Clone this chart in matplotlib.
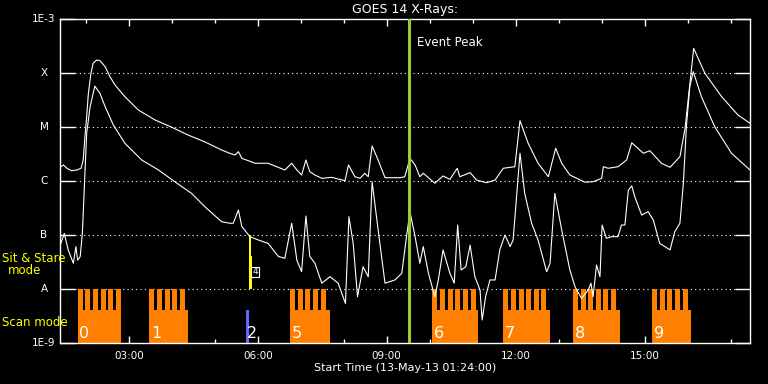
import matplotlib
matplotlib.use('Agg')
import matplotlib.pyplot as plt
from matplotlib.ticker import FixedLocator, NullLocator, FuncFormatter
import numpy as np

# GOES 14 X-ray flux, time in hours of 13-May-13
# long channel (upper curve)
t_long = [1.42, 1.48, 1.56, 1.67, 1.79, 1.89, 1.94, 1.98, 2.02, 2.06, 2.12, 2.17,
          2.25, 2.33, 2.45, 2.56, 2.68, 2.91, 3.22, 3.61, 4.00, 4.38, 4.77, 5.16,
          5.35, 5.47, 5.55, 5.63, 5.94, 6.24, 6.63, 6.79, 6.91, 7.02, 7.12, 7.21,
          7.33, 7.49, 7.72, 8.03, 8.11, 8.26, 8.38, 8.49, 8.57, 8.66, 8.80, 8.96,
          9.31, 9.42, 9.54, 9.66, 9.77, 9.85, 10.12, 10.31, 10.47, 10.64, 10.70,
          10.94, 11.09, 11.32, 11.52, 11.71, 11.98, 12.10, 12.29, 12.52, 12.76,
          12.93, 13.07, 13.26, 13.61, 13.80, 14.00, 14.04, 14.15, 14.38, 14.58,
          14.70, 14.97, 15.12, 15.39, 15.59, 15.82, 15.94, 16.07, 16.14, 16.40,
          16.79, 17.17, 17.45]
f_long = [1.84e-6, 1.98e-6, 1.72e-6, 1.55e-6, 1.60e-6, 1.72e-6, 2.45e-6, 6.6e-6,
          1.55e-5, 4.2e-5, 9.9e-5, 1.51e-4, 1.74e-4, 1.69e-4, 1.31e-4, 8.6e-5,
          6.0e-5, 3.64e-5, 2.07e-5, 1.35e-5, 9.9e-6, 7.1e-6, 5.3e-6, 3.75e-6,
          3.26e-6, 3.03e-6, 3.49e-6, 2.63e-6, 2.13e-6, 2.13e-6, 1.60e-6, 2.13e-6,
          1.60e-6, 1.29e-6, 2.45e-6, 1.49e-6, 1.29e-6, 1.12e-6, 1.17e-6, 1.01e-6,
          1.98e-6, 1.20e-6, 1.12e-6, 1.39e-6, 1.20e-6, 4.45e-6, 2.45e-6, 1.15e-6,
          1.15e-6, 1.20e-6, 2.63e-6, 1.98e-6, 1.20e-6, 1.39e-6, 9.1e-7, 1.24e-6,
          1.07e-6, 1.72e-6, 1.20e-6, 1.43e-6, 1.04e-6, 9.3e-7, 1.04e-6, 1.72e-6,
          1.84e-6, 1.31e-5, 4.99e-6, 2.13e-6, 1.20e-6, 4.04e-6, 2.13e-6, 1.29e-6,
          9.5e-7, 9.7e-7, 1.12e-6, 1.84e-6, 1.72e-6, 1.84e-6, 2.45e-6, 5.1e-6,
          3.26e-6, 3.64e-6, 2.13e-6, 1.79e-6, 2.82e-6, 9.5e-6, 8.6e-5, 2.86e-4,
          9.9e-5, 3.64e-5, 1.67e-5, 1.17e-5]

# short channel (lower curve)
t_short = [1.42, 1.50, 1.59, 1.71, 1.77, 1.81, 1.87, 1.92, 1.97, 2.02, 2.10, 2.21,
           2.33, 2.45, 2.64, 2.91, 3.30, 3.69, 4.07, 4.46, 4.77, 5.16, 5.35, 5.43,
           5.55, 5.63, 5.82, 6.01, 6.24, 6.48, 6.63, 6.79, 6.91, 7.02, 7.12, 7.21,
           7.33, 7.49, 7.68, 7.87, 8.04, 8.12, 8.22, 8.32, 8.45, 8.57, 8.66, 8.80,
           8.96, 9.19, 9.35, 9.46, 9.54, 9.66, 9.77, 9.85, 9.97, 10.12, 10.20,
           10.31, 10.47, 10.57, 10.65, 10.73, 10.84, 10.94, 11.05, 11.17, 11.22,
           11.30, 11.40, 11.52, 11.63, 11.75, 11.87, 11.94, 12.10, 12.21, 12.37,
           12.52, 12.72, 12.80, 12.91, 13.07, 13.26, 13.38, 13.53, 13.69, 13.75,
           13.80, 13.88, 13.96, 14.01, 14.11, 14.23, 14.38, 14.46, 14.54, 14.62,
           14.70, 14.77, 14.93, 15.08, 15.20, 15.35, 15.59, 15.70, 15.82, 15.90,
           15.97, 16.05, 16.13, 16.32, 16.63, 17.02, 17.45]
f_short = [7.0e-8, 1.07e-7, 5.3e-8, 3.0e-8, 6.1e-8, 3.4e-8, 4.0e-8, 1.07e-7, 9.1e-7,
           7.6e-6, 2.38e-5, 5.7e-5, 4.2e-5, 2.38e-5, 1.09e-5, 4.99e-6, 2.45e-6,
           1.60e-6, 9.7e-7, 5.9e-7, 3.34e-7, 1.76e-7, 1.65e-7, 1.65e-7, 2.90e-7,
           1.43e-7, 9.3e-8, 8.1e-8, 7.0e-8, 4.0e-8, 3.7e-8, 1.65e-7, 3.4e-8, 2.09e-8,
           2.25e-7, 4.0e-8, 3.0e-8, 1.28e-8, 1.69e-8, 1.28e-8, 5.4e-9, 2.18e-7,
           7.0e-8, 7.2e-9, 2.59e-8, 1.69e-8, 9.7e-7, 1.24e-7, 1.28e-8, 1.47e-8,
           1.95e-8, 9.3e-8, 2.70e-7, 9.3e-8, 3.0e-8, 6.1e-8, 1.95e-8, 7.2e-9, 1.47e-8,
           5.3e-8, 1.95e-8, 1.28e-8, 1.53e-7, 2.25e-8, 2.59e-8, 6.5e-8, 1.69e-8,
           9.6e-9, 2.67e-9, 7.2e-9, 1.47e-8, 1.47e-8, 5.3e-8, 1.0e-7, 6.1e-8, 8.1e-8,
           3.26e-6, 5.9e-7, 1.65e-7, 8.1e-8, 2.09e-8, 3.0e-8, 5.9e-7, 1.24e-7,
           2.25e-8, 1.10e-8, 6.7e-9, 9.6e-9, 1.28e-8, 7.2e-9, 2.78e-8, 1.69e-8,
           1.53e-7, 8.7e-8, 9.3e-8, 9.3e-8, 1.53e-7, 1.53e-7, 6.8e-7, 8.1e-7, 5.1e-7,
           2.34e-7, 2.70e-7, 1.90e-7, 7.0e-8, 5.3e-8, 1.15e-7, 1.65e-7, 9.1e-7,
           1.01e-5, 5.6e-5, 1.06e-4, 3.64e-5, 1.01e-5, 3.26e-6, 1.60e-6]

# scan mode raster series
scan_ids = ['0', '1', '5', '6', '7', '8', '9']
scan_start = [1.81, 3.48, 6.75, 10.06, 11.71, 13.33, 15.17]
scan_end = [2.82, 4.38, 7.68, 11.13, 12.80, 14.42, 16.07]
scan_nrast = [6, 5, 5, 6, 6, 6, 5]
raster_len = 0.178
raster_gap = 0.062

# short observations around 05:45
scan2_start, scan2_end = 5.73, 5.79
sitstare_start = [5.80, 5.80]
sitstare_end = [5.84, 5.865]
sitstare_top = [1e-7, 4e-8]

event_peak = 9.51
t_start, t_end = 1.40, 17.45

goes_levels = [1e-9, 1e-8, 1e-7, 1e-6, 1e-5, 1e-4, 1e-3]
goes_labels = ['1E-9', 'A', 'B', 'C', 'M', 'X', '1E-3']

orange = '#ff8000'
W, H = 768, 384

fig = plt.figure(figsize=(7.68, 3.84), dpi=100, facecolor='black')
ax = fig.add_axes([60 / W, 1 - 343 / H, 690 / W, 324 / H])
ax.set_facecolor('black')
ax.set_yscale('log')
ax.set_xlim(t_start, t_end)
ax.set_ylim(1e-9, 1e-3)

for sp in ax.spines.values():
    sp.set_color('white')
    sp.set_linewidth(1)

# y ticks
ax.yaxis.set_major_locator(FixedLocator(goes_levels))
ax.yaxis.set_minor_locator(NullLocator())
ax.set_yticklabels([])
ax.tick_params(axis='y', which='major', direction='in', length=10.8, width=1,
               color='white', left=True, right=True)
for lev, lab in zip(goes_levels, goes_labels):
    ax.text(-0.0232, lev, lab, transform=ax.get_yaxis_transform(), color='white',
            fontsize=7.5, ha='center', va='center')

# dotted level lines
for lev in goes_levels[1:-1]:
    ax.axhline(lev, xmin=15 / 690, xmax=1 - 15 / 690, color='white', lw=0.8,
               ls=(0, (1, 2.9)), zorder=1)

# x ticks
ax.xaxis.set_major_locator(FixedLocator([3, 6, 9, 12, 15]))
ax.xaxis.set_minor_locator(FixedLocator(list(range(2, 18))))
ax.xaxis.set_major_formatter(FuncFormatter(lambda v, p: '%02d:00' % int(round(v))))
ax.tick_params(axis='x', which='major', direction='in', length=5, width=1,
               color='white', top=True, bottom=True, labelcolor='white',
               labelsize=7.5, pad=6)
ax.tick_params(axis='x', which='minor', direction='in', length=3, width=1,
               color='white', top=True, bottom=True)

# scan mode blocks
for sid, s, e, n in zip(scan_ids, scan_start, scan_end, scan_nrast):
    ax.bar(s, 4.08e-9 - 1e-9, bottom=1e-9, width=e - s, align='edge',
           color=orange, lw=0, zorder=2)
    slots = s + raster_len * np.arange(n)
    ax.bar(slots, 1e-8 - 4.08e-9, bottom=4.08e-9, width=raster_len - raster_gap,
           align='edge', color=orange, lw=0, zorder=2)
    ax.text(s + 0.04, 1.22e-9, sid, color='white', fontsize=11.5,
            ha='left', va='baseline', zorder=6)

ax.bar(scan2_start, 4.08e-9 - 1e-9, bottom=1e-9, width=scan2_end - scan2_start,
       align='edge', color='#6666ff', lw=0, zorder=2)
ax.text(scan2_start + 0.02, 1.22e-9, '2', color='white', fontsize=11.5,
        ha='left', va='baseline', zorder=6)
for s, e, top in zip(sitstare_start, sitstare_end, sitstare_top):
    ax.bar(s, top - 1e-8, bottom=1e-8, width=e - s, align='edge',
           color='yellow', lw=0, zorder=2)
ax.text(5.935, 2.07e-8, '4', color='white', fontsize=6.5, ha='center',
        va='center', zorder=6,
        bbox=dict(boxstyle='square,pad=0.1', fc='none', ec='white', lw=0.8))

# GOES curves
ax.plot(t_long, f_long, color='white', lw=0.8, zorder=4)
ax.plot(t_short, f_short, color='white', lw=0.8, zorder=4)

# event peak
ax.axvline(event_peak, color='#9acd32', lw=2.2, zorder=5)
ax.text(event_peak + 0.2, 10 ** (-9 + (343 - 43) / 54), 'Event Peak', color='white',
        fontsize=8.5, ha='left', va='center')

# titles and side labels
fig.text(405 / W, 1 - 10 / H, 'GOES 14 X-Rays:', color='white', fontsize=9,
         ha='center', va='center')
fig.text(405 / W, 1 - 368 / H, 'Start Time (13-May-13 01:24:00)', color='white',
         fontsize=8, ha='center', va='center')
fig.text(2 / W, 1 - 258 / H, 'Sit & Stare', color='yellow', fontsize=8.5,
         ha='left', va='center')
fig.text(25 / W, 1 - 271 / H, 'mode', color='yellow', fontsize=8.5,
         ha='center', va='center')
fig.text(2 / W, 1 - 323 / H, 'Scan mode', color='yellow', fontsize=8.5,
         ha='left', va='center')

fig.savefig('out.png', dpi=100, facecolor='black')
